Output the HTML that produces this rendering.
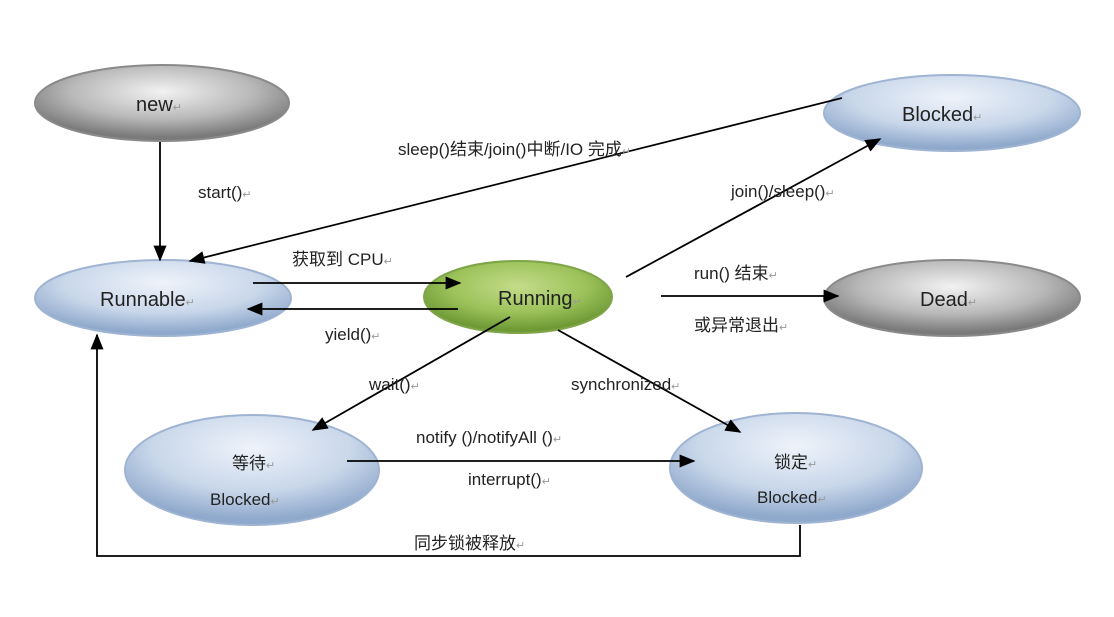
<!DOCTYPE html>
<html><head><meta charset="utf-8"><style>
html,body{margin:0;padding:0;background:#fff;}
svg{display:block;}
text{font-family:"Liberation Sans","Noto Sans CJK SC",sans-serif;fill:#222;}
.r{fill:#999;font-size:11px;}
</style></head><body>
<svg width="1114" height="617" viewBox="0 0 1114 617" xmlns="http://www.w3.org/2000/svg">
<defs>
<radialGradient id="gray" cx="50%" cy="35%" r="60%">
<stop offset="0" stop-color="#f2f2f2"/><stop offset="0.6" stop-color="#b8b8b8"/><stop offset="1" stop-color="#7a7a7a"/></radialGradient>
<radialGradient id="blue" cx="50%" cy="30%" r="65%">
<stop offset="0" stop-color="#eef3fa"/><stop offset="0.6" stop-color="#c9d7ea"/><stop offset="1" stop-color="#8fa9cc"/></radialGradient>
<radialGradient id="green" cx="50%" cy="35%" r="60%">
<stop offset="0" stop-color="#c4dc8a"/><stop offset="0.6" stop-color="#9cc25a"/><stop offset="1" stop-color="#6e9a36"/></radialGradient>
<marker id="a" viewBox="0 0 10 10" refX="9" refY="5" markerWidth="16" markerHeight="13" orient="auto" markerUnits="userSpaceOnUse" preserveAspectRatio="none">
<path d="M0,0 L10,5 L0,10 z" fill="#000"/></marker>
</defs>
<g stroke-width="2">
<ellipse cx="162" cy="103" rx="127" ry="38" fill="url(#gray)" stroke="#8a8a8a"/>
<ellipse cx="952" cy="113" rx="128" ry="38" fill="url(#blue)" stroke="#9fb4d2"/>
<ellipse cx="163" cy="298" rx="128" ry="38" fill="url(#blue)" stroke="#9fb4d2"/>
<ellipse cx="518" cy="297" rx="94" ry="36" fill="url(#green)" stroke="#7fa548"/>
<ellipse cx="952" cy="298" rx="128" ry="38" fill="url(#gray)" stroke="#8a8a8a"/>
<ellipse cx="252" cy="470" rx="127" ry="55" fill="url(#blue)" stroke="#9fb4d2"/>
<ellipse cx="796" cy="468" rx="126" ry="55" fill="url(#blue)" stroke="#9fb4d2"/>
</g>
<g stroke="#000" stroke-width="1.8" fill="none" marker-end="url(#a)">
<line x1="160" y1="142" x2="160" y2="260"/>
<line x1="842" y1="98" x2="190" y2="261"/>
<line x1="253" y1="283" x2="460" y2="283"/>
<line x1="458" y1="309" x2="248" y2="309"/>
<line x1="626" y1="277" x2="880" y2="139"/>
<line x1="661" y1="296" x2="838" y2="296"/>
<line x1="510" y1="317" x2="313" y2="430"/>
<line x1="558" y1="330" x2="740" y2="432"/>
<line x1="347" y1="461" x2="694" y2="461"/>
<polyline points="800,525 800,556 97,556 97,335"/>
</g>
<g font-size="20">
<text x="136" y="111">new<tspan class="r">↵</tspan></text>
<text x="902" y="121">Blocked<tspan class="r">↵</tspan></text>
<text x="100" y="306">Runnable<tspan class="r">↵</tspan></text>
<text x="498" y="305">Running<tspan class="r">↵</tspan></text>
<text x="920" y="306">Dead<tspan class="r">↵</tspan></text>
</g>
<g font-size="17">
<text x="232" y="469">等待<tspan class="r">↵</tspan></text>
<text x="210" y="505">Blocked<tspan class="r">↵</tspan></text>
<text x="774" y="468">锁定<tspan class="r">↵</tspan></text>
<text x="757" y="503">Blocked<tspan class="r">↵</tspan></text>
<text x="198" y="198">start()<tspan class="r">↵</tspan></text>
<text x="398" y="155">sleep()结束/join()中断/IO 完成<tspan class="r">↵</tspan></text>
<text x="731" y="197">join()/sleep()<tspan class="r">↵</tspan></text>
<text x="292" y="265">获取到 CPU<tspan class="r">↵</tspan></text>
<text x="325" y="340">yield()<tspan class="r">↵</tspan></text>
<text x="694" y="279">run()  结束<tspan class="r">↵</tspan></text>
<text x="694" y="331">或异常退出<tspan class="r">↵</tspan></text>
<text x="369" y="390">wait()<tspan class="r">↵</tspan></text>
<text x="571" y="390">synchronized<tspan class="r">↵</tspan></text>
<text x="416" y="443">notify ()/notifyAll ()<tspan class="r">↵</tspan></text>
<text x="468" y="485">interrupt()<tspan class="r">↵</tspan></text>
<text x="414" y="549">同步锁被释放<tspan class="r">↵</tspan></text>
</g>
</svg>
</body></html>
